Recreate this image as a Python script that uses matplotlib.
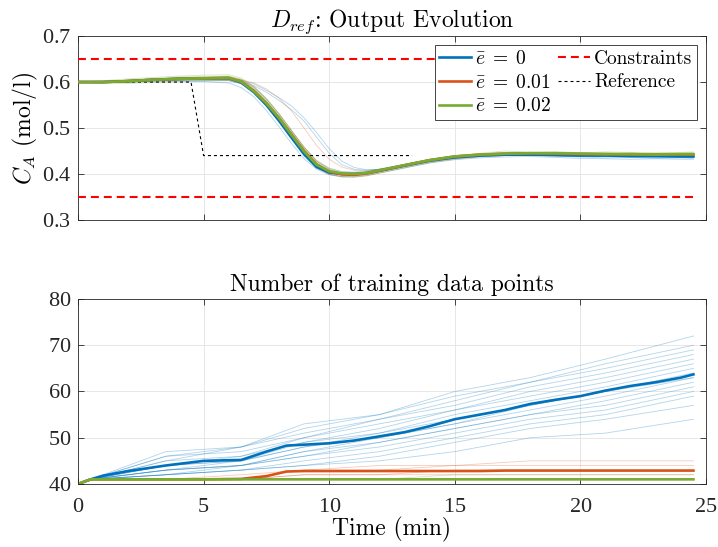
import matplotlib
matplotlib.use('Agg')
import matplotlib.pyplot as plt
import numpy as np

plt.rcParams['font.family'] = ['cmr10', 'DejaVu Serif']
plt.rcParams['mathtext.fontset'] = 'cm'
plt.rcParams['axes.formatter.use_mathtext'] = True
plt.rcParams['xtick.major.pad'] = 10
plt.rcParams['ytick.major.pad'] = 5
plt.rcParams['xtick.direction'] = 'in'
plt.rcParams['ytick.direction'] = 'in'

BLUE = '#0072BD'
ORANGE = '#D95319'
GREEN = '#77AC30'
TICK_FONT = 'Liberation Serif'

# ---- top panel: concentration trajectories ----
t_top = [0, 1, 2, 3, 4, 5, 6, 6.5, 7, 7.5, 8, 8.5, 9, 9.5, 10, 10.5, 11, 11.5,
         12, 13, 14, 15, 16, 17, 18, 19, 20, 21, 22, 23, 24, 24.5]
ca_e0 = [0.600, 0.600, 0.602, 0.605, 0.607, 0.608, 0.608, 0.599, 0.578, 0.550, 0.516, 0.479,
         0.443, 0.415, 0.403, 0.400, 0.400, 0.402, 0.407, 0.418, 0.429, 0.436, 0.440, 0.442,
         0.442, 0.441, 0.440, 0.440, 0.439, 0.439, 0.438, 0.438]
ca_e1 = [0.600, 0.600, 0.602, 0.605, 0.607, 0.608, 0.609, 0.601, 0.581, 0.554, 0.522, 0.486,
         0.450, 0.421, 0.405, 0.399, 0.398, 0.401, 0.407, 0.419, 0.430, 0.438, 0.442, 0.444,
         0.445, 0.444, 0.443, 0.443, 0.442, 0.442, 0.442, 0.442]
ca_e2 = [0.600, 0.600, 0.602, 0.605, 0.607, 0.608, 0.609, 0.601, 0.580, 0.554, 0.522, 0.485,
         0.449, 0.420, 0.406, 0.401, 0.400, 0.402, 0.408, 0.419, 0.430, 0.438, 0.442, 0.444,
         0.445, 0.445, 0.444, 0.443, 0.443, 0.442, 0.443, 0.443]

ca_runs_e0 = [
    [0.600, 0.600, 0.601, 0.603, 0.604, 0.604, 0.604, 0.601, 0.592, 0.578, 0.560, 0.540, 0.515, 0.480, 0.445, 0.420,
     0.410, 0.408, 0.410, 0.418, 0.428, 0.436, 0.440, 0.442, 0.443, 0.441, 0.440, 0.438, 0.437, 0.437, 0.436, 0.436],
    [0.600, 0.599, 0.600, 0.601, 0.602, 0.601, 0.598, 0.588, 0.568, 0.538, 0.503, 0.466, 0.433, 0.410, 0.398, 0.394,
     0.394, 0.397, 0.402, 0.413, 0.424, 0.431, 0.435, 0.437, 0.438, 0.436, 0.434, 0.433, 0.432, 0.433, 0.432, 0.432],
    [0.600, 0.601, 0.603, 0.605, 0.608, 0.610, 0.611, 0.604, 0.588, 0.562, 0.530, 0.494, 0.458, 0.428, 0.412, 0.405,
     0.404, 0.406, 0.411, 0.421, 0.431, 0.438, 0.443, 0.446, 0.447, 0.444, 0.446, 0.443, 0.441, 0.444, 0.440, 0.441],
    [0.600, 0.600, 0.602, 0.604, 0.605, 0.606, 0.606, 0.604, 0.596, 0.582, 0.566, 0.548, 0.522, 0.490, 0.455, 0.428,
     0.414, 0.409, 0.410, 0.417, 0.426, 0.434, 0.438, 0.440, 0.441, 0.439, 0.437, 0.435, 0.436, 0.434, 0.435, 0.434],
    [0.600, 0.600, 0.601, 0.602, 0.603, 0.603, 0.603, 0.596, 0.578, 0.550, 0.515, 0.478, 0.442, 0.414, 0.399, 0.395,
     0.396, 0.399, 0.405, 0.416, 0.427, 0.434, 0.438, 0.440, 0.441, 0.440, 0.438, 0.439, 0.437, 0.436, 0.437, 0.437],
]
ca_runs_e1 = [
    [0.600, 0.601, 0.604, 0.606, 0.609, 0.611, 0.612, 0.606, 0.590, 0.564, 0.532, 0.495, 0.458, 0.428, 0.410, 0.402,
     0.400, 0.402, 0.407, 0.418, 0.429, 0.437, 0.442, 0.445, 0.446, 0.447, 0.445, 0.444, 0.446, 0.443, 0.444, 0.445],
    [0.600, 0.600, 0.602, 0.604, 0.606, 0.607, 0.607, 0.605, 0.598, 0.585, 0.565, 0.537, 0.500, 0.462, 0.432, 0.415,
     0.408, 0.407, 0.410, 0.419, 0.429, 0.436, 0.441, 0.443, 0.444, 0.443, 0.442, 0.441, 0.440, 0.441, 0.440, 0.440],
    [0.600, 0.599, 0.601, 0.603, 0.604, 0.605, 0.604, 0.597, 0.579, 0.551, 0.517, 0.480, 0.444, 0.416, 0.400, 0.394,
     0.393, 0.396, 0.402, 0.413, 0.424, 0.432, 0.437, 0.440, 0.441, 0.442, 0.440, 0.441, 0.439, 0.440, 0.439, 0.440],
    [0.600, 0.601, 0.603, 0.606, 0.608, 0.609, 0.610, 0.603, 0.586, 0.559, 0.526, 0.490, 0.454, 0.424, 0.407, 0.400,
     0.399, 0.401, 0.406, 0.417, 0.428, 0.436, 0.441, 0.443, 0.445, 0.444, 0.443, 0.444, 0.442, 0.443, 0.443, 0.444],
]
ca_runs_e2 = [
    [0.600, 0.603, 0.607, 0.610, 0.613, 0.615, 0.616, 0.609, 0.591, 0.564, 0.531, 0.494, 0.457, 0.427, 0.410, 0.403,
     0.402, 0.404, 0.409, 0.420, 0.431, 0.439, 0.444, 0.447, 0.448, 0.447, 0.446, 0.447, 0.445, 0.446, 0.446, 0.447],
    [0.600, 0.597, 0.597, 0.599, 0.601, 0.602, 0.603, 0.597, 0.579, 0.551, 0.517, 0.480, 0.444, 0.415, 0.399, 0.393,
     0.393, 0.396, 0.402, 0.414, 0.425, 0.433, 0.438, 0.441, 0.442, 0.443, 0.442, 0.441, 0.441, 0.440, 0.441, 0.441],
    [0.600, 0.601, 0.605, 0.608, 0.611, 0.612, 0.613, 0.606, 0.589, 0.563, 0.530, 0.494, 0.459, 0.430, 0.413, 0.405,
     0.403, 0.405, 0.410, 0.421, 0.432, 0.440, 0.445, 0.450, 0.447, 0.449, 0.446, 0.448, 0.447, 0.445, 0.447, 0.448],
    [0.600, 0.599, 0.599, 0.602, 0.604, 0.606, 0.607, 0.601, 0.584, 0.557, 0.523, 0.486, 0.450, 0.420, 0.404, 0.398,
     0.397, 0.399, 0.404, 0.416, 0.427, 0.435, 0.440, 0.443, 0.444, 0.443, 0.444, 0.442, 0.443, 0.444, 0.442, 0.443],
]

t_ref = [0, 4.5, 5.0, 13.3]
ca_ref = [0.6, 0.6, 0.44, 0.44]
t_con = [0, 24.5]
ca_max = 0.65
ca_min = 0.35

# ---- bottom panel: number of training points ----
t_bot = [0, 0.5, 1, 2, 3.5, 5, 6.5, 7.5, 8.3, 9, 10, 11, 12, 13, 14, 15, 16, 17, 18,
         19, 20, 21, 22, 23, 24, 24.5]
n_e0 = [40, 41, 41.8, 42.8, 44.0, 45.0, 45.2, 47.0, 48.3, 48.5, 48.8, 49.4, 50.3, 51.2,
        52.5, 54.0, 55.0, 56.0, 57.3, 58.2, 59.0, 60.2, 61.2, 62.0, 63.0, 63.7]
n_e1 = [40, 41, 41, 41, 41, 41, 41.1, 41.7, 42.7, 42.8, 42.8, 42.8, 42.8, 42.8,
        42.8, 42.8, 42.8, 42.9, 42.9, 42.9, 42.9, 42.9, 42.9, 42.9, 42.9, 42.9]
n_e2 = [40, 41, 41, 41, 41, 41, 41, 41, 41, 41, 41, 41, 41, 41,
        41, 41, 41, 41, 41, 41, 41, 41, 41, 41, 41, 41]

t_knots = [0, 0.5, 3.5, 6.5, 9, 12, 15, 18, 21, 24.5]
n_runs_e0 = [
    [40, 41, 47, 48, 53, 55, 60, 63, 67, 72],
    [40, 41, 46, 48, 52, 55, 59, 62, 66, 70],
    [40, 41, 45, 48, 51, 54, 58, 62, 65, 69],
    [40, 41, 46, 47, 50, 54, 57, 61, 64, 68],
    [40, 41, 45, 46, 50, 53, 56, 60, 63, 67],
    [40, 41, 44, 46, 49, 52, 56, 59, 62, 66],
    [40, 41, 44, 45, 49, 51, 55, 58, 61, 65],
    [40, 41, 44, 45, 48, 51, 54, 57, 60, 64],
    [40, 41, 43, 45, 48, 50, 53, 56, 59, 63],
    [40, 41, 43, 44, 47, 49, 52, 55, 58, 62],
    [40, 41, 43, 44, 46, 49, 52, 55, 57, 61],
    [40, 41, 42, 44, 46, 48, 51, 54, 56, 60],
    [40, 41, 42, 43, 45, 47, 50, 53, 55, 59],
    [40, 41, 42, 43, 44, 46, 49, 52, 54, 57],
    [40, 41, 42, 43, 44, 45, 47, 50, 51, 54],
    [40, 41, 43, 44, 47, 50, 53, 57, 60, 63],
]
n_runs_e1 = [
    [40, 41, 41, 41, 43, 44, 44, 45, 45, 45],
    [40, 41, 41, 42, 43, 43, 44, 44, 44, 44],
    [40, 41, 41, 41, 42, 42, 43, 43, 43, 43],
    [40, 41, 41, 41, 42, 42, 42, 42, 42, 42],
]
n_runs_e2 = [
    [40, 41, 41, 41, 41, 41, 42, 42, 42, 42],
    [40, 41, 41, 41, 41, 41, 41, 41, 41, 41],
]

fig = plt.figure(figsize=(7.18, 5.47), dpi=100)
ax1 = fig.add_axes([0.1086, 0.598, 0.8747, 0.336])
ax2 = fig.add_axes([0.1086, 0.1152, 0.8747, 0.3382])


def style_axes(ax):
    ax.grid(True, color='#e3e3e3', linewidth=0.6)
    ax.set_axisbelow(True)
    for s in ax.spines.values():
        s.set_color('#262626')
        s.set_linewidth(0.6)
    ax.set_xlim(0, 25)
    ax.set_xticks([0, 5, 10, 15, 20, 25])
    ax.tick_params(top=True, right=True, length=4, width=0.6,
                   labelsize=16, colors='#262626')
    for lab in ax.get_xticklabels() + ax.get_yticklabels():
        lab.set_fontfamily(TICK_FONT)


# top panel
for runs, c in [(ca_runs_e0, BLUE), (ca_runs_e1, ORANGE), (ca_runs_e2, GREEN)]:
    for r in runs:
        ax1.plot(t_top, r, color=c, lw=0.6, alpha=0.3)
ax1.plot(t_ref, ca_ref, color='black', lw=0.8, linestyle=(0, (2.7, 2.7)), zorder=2)
ax1.plot(t_top, ca_e0, color=BLUE, lw=1.9, label=r'$\bar{e}\;=\;0$', zorder=3)
ax1.plot(t_top, ca_e1, color=ORANGE, lw=1.9, label=r'$\bar{e}\;=\;0.01$', zorder=3)
ax1.plot(t_top, ca_e2, color=GREEN, lw=1.9, label=r'$\bar{e}\;=\;0.02$', zorder=3)
ax1.plot(t_con, [ca_max, ca_max], color='red', lw=1.5, linestyle=(0, (3.8, 2.4)),
         label='Constraints', zorder=3)
ax1.plot(t_con, [ca_min, ca_min], color='red', lw=1.5, linestyle=(0, (3.8, 2.4)), zorder=3)
ax1.plot([], [], color='black', lw=0.8, linestyle=(0, (2.7, 2.7)), label='Reference')

ax1.set_ylim(0.3, 0.7)
ax1.set_yticks([0.3, 0.4, 0.5, 0.6, 0.7])
style_axes(ax1)
ax1.tick_params(labelbottom=False)
ax1.set_ylabel(r'$C_A$ (mol/l)', fontsize=17, labelpad=1)
ax1.set_title(r'$D_{ref}$: Output Evolution', fontsize=17, pad=6)
leg = ax1.legend(loc='upper right', ncol=2, fontsize=14, frameon=True, fancybox=False,
                 framealpha=1, edgecolor='#262626', borderaxespad=0.45,
                 handlelength=1.65, handletextpad=0.2, columnspacing=0.35,
                 labelspacing=0.3, borderpad=0.25)
leg.get_frame().set_linewidth(0.6)

# bottom panel
for runs, c in [(n_runs_e0, BLUE), (n_runs_e1, ORANGE), (n_runs_e2, GREEN)]:
    for r in runs:
        ax2.plot(t_knots, r, color=c, lw=0.6, alpha=0.3)
ax2.plot(t_bot, n_e0, color=BLUE, lw=1.9)
ax2.plot(t_bot, n_e1, color=ORANGE, lw=1.9)
ax2.plot(t_bot, n_e2, color=GREEN, lw=1.9)
ax2.set_ylim(40, 80)
ax2.set_yticks([40, 50, 60, 70, 80])
style_axes(ax2)
ax2.set_xlabel('Time (min)', fontsize=17, labelpad=0)
ax2.set_title('Number of training data points', fontsize=17, pad=6)

fig.savefig('out.png', dpi=100)
